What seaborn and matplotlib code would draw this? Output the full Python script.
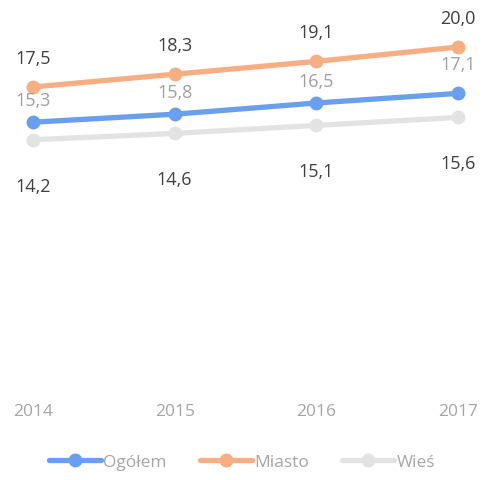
import matplotlib
matplotlib.use("Agg")
import matplotlib.pyplot as plt
import seaborn as sns
import pandas as pd

years = ["2014", "2015", "2016", "2017"]
ogolem = [15.3, 15.8, 16.5, 17.1]
miasto = [17.5, 18.3, 19.1, 20.0]
wies = [14.2, 14.6, 15.1, 15.6]
series_names = ["Ogółem", "Miasto", "Wieś"]
colors = ["#6A9FEF", "#F7AE82", "#E3E3E3"]

df = pd.DataFrame({
    "rok": years * 3,
    "x": list(range(len(years))) * 3,
    "val": ogolem + miasto + wies,
    "seria": [s for s in series_names for _ in years],
})

sns.set_theme(style="white")
plt.rcParams["font.family"] = ["Open Sans", "DejaVu Sans"]

fig = plt.figure(figsize=(4.84, 4.81), dpi=100)
ax = fig.add_axes([0, 81 / 481, 1, 380 / 481])

sns.lineplot(data=df, x="x", y="val", hue="seria", hue_order=series_names,
             palette=colors, marker="o", markersize=10, markeredgewidth=0,
             linewidth=3.8, ax=ax, legend=True)
for line, z in zip(ax.lines, [3, 2, 1]):
    line.set_zorder(z)

ax.set_xlim(-0.233, 3.184)
ax.set_ylim(-2.0, 21.75)
ax.set_xticks(range(len(years)))
ax.set_xticklabels(years)
ax.set_yticks([])
ax.set_xlabel("")
ax.set_ylabel("")
ax.tick_params(axis="x", length=0, pad=3, labelsize=12.5, labelcolor="#A6A6A6")
for s in ax.spines.values():
    s.set_visible(False)

fs = 13
for i, v in enumerate(miasto):
    ax.annotate(f"{v:.1f}".replace(".", ","), (i, v), xytext=(0, 21), textcoords="offset points",
                ha="center", va="center", fontsize=fs, color="#404040")
for i, v in enumerate(ogolem):
    off = 21 if i == 3 else 16
    ax.annotate(f"{v:.1f}".replace(".", ","), (i, v), xytext=(0, off), textcoords="offset points",
                ha="center", va="center", fontsize=fs, color="#A0A0A0")
for i, v in enumerate(wies):
    ax.annotate(f"{v:.1f}".replace(".", ","), (i, v), xytext=(0, -33), textcoords="offset points",
                ha="center", va="center", fontsize=fs, color="#404040")

leg = ax.legend(loc="center", bbox_to_anchor=(0.5, -0.165), ncol=3, frameon=False,
                fontsize=12.5, handlelength=3.0, handletextpad=0.15, columnspacing=1.9)
for t in leg.get_texts():
    t.set_color("#A6A6A6")

fig.savefig("out.png", dpi=100)
